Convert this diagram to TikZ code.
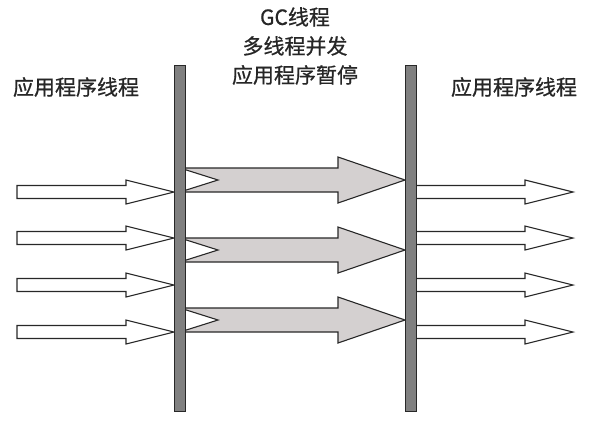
\documentclass[tikz,border=0pt]{standalone}
\usepackage{fontspec}
\newfontfamily\cjk[FakeBold=0.7]{Noto Sans CJK SC}
\definecolor{barfill}{RGB}{128,128,128}
\definecolor{gcfill}{RGB}{212,208,208}
\definecolor{edge}{RGB}{40,40,40}
\newcommand\plainarrow[5]{% #1 x start, #2 shaft end, #3 tip, #4 y centre, #5 style
  \draw[#5] (#1,#4-6.5) -- (#2,#4-6.5) -- (#2,#4-12) -- (#3,#4) -- (#2,#4+12)
    -- (#2,#4+6.5) -- (#1,#4+6.5) -- cycle;}
\newcommand\notcharrow[6]{% #1 x start, #2 notch, #3 shaft end, #4 tip, #5 y centre, #6 style
  \draw[#6] (#1,#5-12) -- (#3,#5-12) -- (#3,#5-23) -- (#4,#5) -- (#3,#5+23)
    -- (#3,#5+12) -- (#1,#5+12) -- (#2,#5) -- cycle;}
\begin{document}
\begin{tikzpicture}[x=1pt,y=-1pt,
  bar/.style={draw=edge,line width=1.2pt,fill=barfill,minimum width=11pt,minimum height=346pt,inner sep=0pt},
  label/.style={font=\cjk\fontsize{21}{29}\selectfont,align=center,text=black!85},
  whitearr/.style={draw=edge,line width=1.1pt,fill=white,line join=miter},
  grayarr/.style={draw=edge,line width=1.1pt,fill=gcfill,line join=miter}]
\useasboundingbox (0,0) rectangle (590,424);
% labels
\node[label] (lleft) at (76,87) {应用程序线程};
\node[label] (lright) at (514,87) {应用程序线程};
\node[label] (lgc) at (295,46) {GC线程\\多线程并发\\应用程序暂停};
% gray GC arrows (behind bars)
\foreach \y in {180,250,320} {\notcharrow{180}{218}{338}{405}{\y}{grayarr}}
% white arrows
\foreach \y in {192,238,285,332} {\plainarrow{17}{126}{174}{\y}{whitearr}}
\foreach \y in {192,238,285,332} {\plainarrow{411}{525}{573}{\y}{whitearr}}
% bars
\node[bar] (lbar) at (180,238.5) {};
\node[bar] (rbar) at (411,238.5) {};
\end{tikzpicture}
\end{document}
